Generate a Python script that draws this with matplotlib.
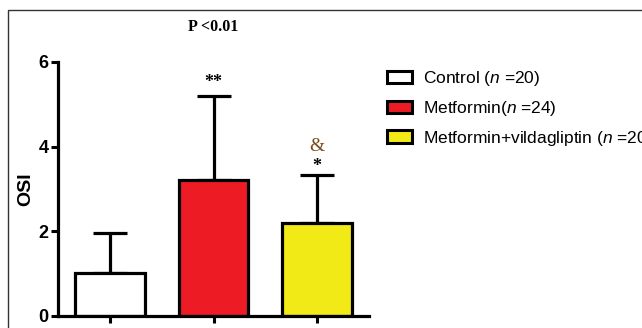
import matplotlib
matplotlib.use("Agg")
import matplotlib.pyplot as plt
from matplotlib.patches import Patch, Rectangle

plt.rcParams['font.family'] = ['Liberation Sans', 'DejaVu Sans']
plt.rcParams['mathtext.fontset'] = 'custom'
plt.rcParams['mathtext.it'] = 'Liberation Sans:italic'
plt.rcParams['mathtext.rm'] = 'Liberation Sans'

# data
groups = ["Control", "Metformin", "Metformin+vildagliptin"]
labels = ["Control ($\\it{n}$ =20)", "Metformin($\\it{n}$ =24)",
          "Metformin+vildagliptin ($\\it{n}$ =20)"]
means = [1.02, 3.21, 2.20]
sd_up = [0.94, 1.99, 1.13]
colors = ["#ffffff", "#ed1c24", "#f2ea17"]
marks = ["", "**", "*"]
marks2 = ["", "", "&"]
yticks = [0, 2, 4, 6]

W, H = 642, 328
fig = plt.figure(figsize=(W / 100, H / 100), dpi=100)
ax = fig.add_axes([58 / W, 1 - 316 / H, (369 - 58) / W, (316 - 62) / H])

x = list(range(len(groups)))
ax.errorbar(x, means, yerr=[[0] * 3, sd_up], fmt="none", ecolor="black",
            elinewidth=2.3, capsize=12, capthick=2.3, zorder=1)
ax.bar(x, means, width=0.67, color=colors, edgecolor="black",
       linewidth=2.3, zorder=2)

# star marks sit a bit closer when a second mark is stacked above
for xi, m, s, t, t2 in zip(x, means, sd_up, marks, marks2):
    if t:
        off = 0.0 if t2 else 0.12
        ax.text(xi, m + s + off, t, ha="center", va="bottom",
                fontsize=13, fontweight="bold", family="Liberation Serif")
    if t2:
        ax.text(xi, m + s + 0.47, t2, ha="center", va="bottom",
                fontsize=14, color="#7a4a1a", family="Liberation Serif")

ax.set_xlim(-0.5, 2.5)
ax.set_ylim(0, 6)
ax.set_xticks(x)
ax.set_xticklabels([])
ax.set_yticks(yticks)
ax.set_yticklabels([str(v) for v in yticks], fontweight="bold", fontsize=13)
ax.tick_params(axis="both", width=2.2, length=5, direction="out", pad=2)
for side in ["top", "right"]:
    ax.spines[side].set_visible(False)
for side in ["left", "bottom"]:
    ax.spines[side].set_linewidth(2.3)
ax.spines["bottom"].set_zorder(3)
ax.set_ylabel("OSI", fontsize=14, fontweight="bold", labelpad=3)

fig.text(213 / W, 1 - 27 / H, "P <0.01", ha="center", va="center",
         fontsize=11.5, fontweight="bold", family="Liberation Serif")

handles = [Patch(facecolor=c, edgecolor="black", linewidth=2.2) for c in colors]
fig.legend(handles, labels, loc="upper left",
           bbox_to_anchor=(387 / W, 1 - 69 / H), frameon=False,
           fontsize=12.5, handlelength=1.45, handleheight=0.7,
           handletextpad=0.6, labelspacing=0.62, borderpad=0, borderaxespad=0)

# thin frame around the figure (top and left visible)
fig.patches.append(Rectangle((8 / W, -0.05), 1.0, 1 - 10 / H + 0.05,
                             transform=fig.transFigure, fill=False,
                             edgecolor="#333333", linewidth=1.0))

fig.savefig("out.png", dpi=100)
